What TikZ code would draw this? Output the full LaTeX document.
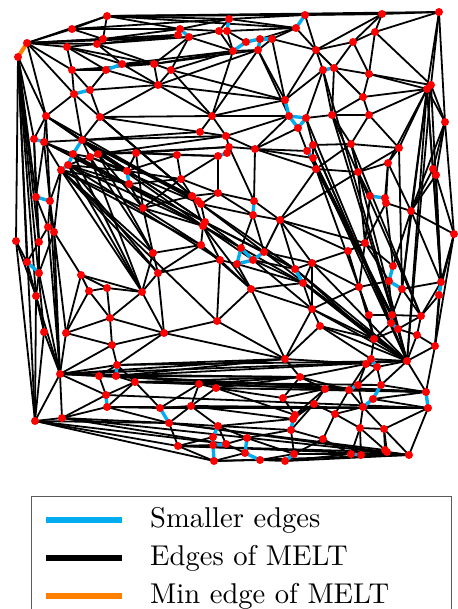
\documentclass[tikz,border=0pt]{standalone}
\usepackage{graphicx}
\definecolor{smallblue}{RGB}{0,174,239}
\definecolor{minorange}{RGB}{255,127,0}
\definecolor{boxgray}{RGB}{90,90,90}
\tikzset{
  melt/.style={black, line width=1.8pt},
  smalledge/.style={smallblue, line width=3.4pt},
  minedge/.style={minorange, line width=4pt},
  vertex/.style={fill=red},
  legendtext/.style={anchor=base west, inner sep=0pt},
}
\begin{document}
\begin{tikzpicture}[x=1pt,y=-1pt]
\useasboundingbox (0,0) rectangle (457,609);
% ---- vertices
\foreach \n/\x/\y in {
a1/27/43,a2/18/57,a3/107/16,a4/72/29,a5/97/44,a6/103/39,a7/67/47,a8/72/70,a9/106/70,a10/122/64,
a11/154/64,a12/158/85,a13/90/90,a14/74/94,a15/46/116,a16/100/117,a17/34/139,a18/44/142,a19/82/140,a20/73/154,
a21/90/157,a22/98/154,a23/136/153,a24/68/165,a25/61/170,
b1/229/19,b2/227/31,b3/219/31,b4/180/29,b5/178/35,b6/189/37,b7/305/15,b8/296/28,b9/246/42,b10/260/39,
b11/272/39,b12/258/50,b13/233/51,b14/171/70,b15/285/100,b16/289/116,b17/306/118,b18/298/128,b19/212/116,b20/200/132,
b21/226/136,b22/229/147,b23/227/153,b24/218/156,b25/255/149,b26/177/155,b27/307/151,b28/313/145,b29/313/158,b30/316/169,
c1/382/14,c2/439/12,c3/375/32,c4/353/42,c5/316/50,c6/323/70,c7/334/68,c8/369/74,c9/427/89,c10/431/85,
c11/363/97,c12/369/115,c13/332/115,c14/445/122,c15/351/144,c16/399/148,
d1/181/179,d2/218/193,d3/192/196,d4/198/201,d5/201/204,d6/254/201,d7/253/215,d8/280/220,d9/205/222,d10/203/226,
d11/201/245,d12/153/253,d13/158/273,d14/220/260,d15/241/248,d16/237/264,d17/253/260,d18/264/252,d19/295/269,d20/303/283,
d21/251/289,d22/127/171,d23/129/184,d24/143/208,d26/142/292,d27/107/288,d28/89/291,d29/81/275,
e1/388/163,e2/433/169,e3/436/175,e4/358/172,e5/370/196,e6/385/198,e7/386/203,e8/411/211,e9/454/234,e10/365/243,
e11/348/251,e12/312/263,e13/393/266,e14/389/281,e15/402/289,e16/359/287,e17/441/282,e18/439/295,e19/312/309,
f1/36/197,f2/50/201,f3/48/227,f4/54/232,f5/16/241,f6/39/242,f7/27/262,f8/39/273,f9/36/296,
g1/110/318,g2/44/332,g3/66/333,g4/112/345,g5/117/365,g6/116/376,g7/60/374,g8/99/376,g9/135/382,g10/106/395,
g11/107/407,g12/160/408,g13/35/421,g14/62/418,g15/164/333,g16/217/321,g17/285/359,g18/300/377,g19/199/384,g20/216/388,
g21/283/398,g23/169/423,g24/191/406,g25/295/415,g26/293/419,g27/291/430,g28/218/426,g29/213/437,g30/213/445,g31/226/444,
g32/214/461,g33/178/446,g34/247/438,g35/245/453,g36/260/460,g37/285/461,g38/294/454,
h1/320/326,h2/369/315,h3/392/315,h4/391/323,h5/398/329,h6/421/316,h7/417/335,h8/435/346,h9/374/339,h10/407/361,
h11/371/359,h12/366/364,h13/377/367,h15/358/385,h16/349/390,h17/381/385,h18/373/399,h19/363/407,h20/325/389,h21/426/392,
h22/428/408,h23/314/404,h24/335/414,h25/360/428,h26/384/429,h27/323/439,h28/351/454,h29/361/455,h30/385/450,h31/387/452,h32/409/455}
  {\coordinate (\n) at (\x,\y);}
% ---- edges of MELT (local mesh)
\foreach \u/\v in {
a1/a3,a1/a4,a3/a4,a4/a6,a3/a6,a5/a6,a1/a5,a1/a6,a1/a7,a5/a7,a7/a8,a1/a8,a1/a14,a8/a14,a8/a9,a8/a13,a9/a13,a7/a9,a7/a10,a5/a10,
a10/a11,a5/a11,a11/b6,a5/b6,a5/b5,a6/b5,a6/b4,a3/b4,a10/a12,a11/a12,a11/b14,a12/b14,a9/a12,a12/a13,a13/a16,a12/a16,a14/a16,a14/a15,a1/a15,a2/a15,
a14/a19,a16/a19,a15/a19,a12/b19,b14/b19,a16/b19,a16/b20,b19/b20,b20/b21,b19/b21,a19/b20,a19/b21,a15/a17,a15/a18,a2/a17,a18/a19,a18/a20,a18/a25,a19/a21,a20/a21,
a21/a22,a19/a22,a22/b21,a22/b22,a22/a23,a23/b22,a23/b24,a23/b26,b26/b24,a21/a24,a21/d22,a22/d22,a23/d22,b26/d22,b26/d1,b24/d1,d22/d1,a24/d22,a24/d23,a25/d23,
d23/d1,d23/d24,a25/d24,
a3/b1,a3/b7,a3/c2,b4/b1,b4/b3,b1/b3,b2/b3,b3/b6,b4/b5,b1/b7,b1/b8,b2/b8,b8/b10,b2/b9,b3/b13,b6/b13,b2/b13,b8/b11,b8/c5,b7/c5,
b7/c1,b11/c5,b11/b12,b12/b13,b6/b14,b13/b14,b13/b19,b12/b19,b12/b15,b11/b15,c5/b15,c5/c6,c6/b15,b19/b16,b12/b16,b16/b21,b16/b25,b21/b25,b18/b25,b18/b27,
b17/b28,b25/b27,b25/b29,b25/b30,b21/b22,b22/b25,b25/d6,b22/d6,b24/d2,d1/d2,d1/d3,d2/d3,d2/d6,d2/d7,d6/d8,d7/d8,b29/b30,b30/d8,b28/b29,
c1/c2,c1/c3,c3/c2,c1/c4,c3/c4,c4/c5,c5/c1,c4/c7,c5/c7,c4/c8,c3/c8,c8/c10,c3/c10,c2/c10,c9/c10,c8/c9,c8/c11,c7/c11,c7/c8,c11/c9,
c11/c12,c12/c9,c9/c14,c2/c14,c10/c14,c6/c13,c7/c13,c13/c11,c13/c12,c13/b17,c6/b17,c13/c15,c12/c15,c15/b28,c15/c16,c12/c16,c16/c9,c16/e1,c9/e1,c9/e8,
c9/e2,e2/e8,e2/e3,e3/e8,c14/e2,c14/e3,c14/e9,e3/e9,c15/b30,c15/e4,b30/e4,c16/e4,e1/e4,e4/e5,e1/e6,e1/e7,e1/e8,e7/e8,e8/e9,
e5/e10,e7/e10,e7/e13,e8/e13,e10/e13,e8/e15,e8/e17,e9/e17,e15/e17,e4/e10,d8/e4,d8/e10,d8/e11,e10/e11,e11/e12,d8/e12,d8/d19,e12/d19,e10/e14,e10/e16,
e11/e16,e12/e16,e14/e16,e16/e19,e12/e19,e16/h2,e16/h9,e19/h1,e19/h9,h1/h9,e15/h3,e14/h3,e15/h6,e17/h6,e18/h6,e18/h8,e9/e18,h3/h6,h5/h6,h6/h7,
h7/h8,h5/h7,h2/h3,h2/h9,h4/h9,h5/h9,h9/h10,h5/h10,h7/h10,h8/h10,h9/h11,h11/h10,h13/h10,h1/h11,h13/h17,h10/h17,h10/h21,h8/h21,h17/h21,h18/h21,
h18/h22,h19/h22,h19/h26,h22/h26,h22/h32,h26/h32,h26/h31,h31/h32,h30/h26,h25/h26,h25/h30,h29/h30,h25/h29,h25/h28,h27/h28,h24/h25,h24/h27,h23/h24,h27/g38,g38/h28,
g37/h28,g37/h32,h29/h32,h29/h31,h19/h25,h19/h24,h16/h24,h16/h19,h15/h19,h15/h17,h12/h15,h12/h16,h12/h13,h15/h13,
d3/d4,d4/d5,d5/d9,d9/d10,d3/d10,d1/d24,d3/d24,d24/d10,d24/d12,d24/d11,d10/d11,d11/d12,d12/d13,d11/d13,d11/d14,d13/d14,d2/d5,d5/d7,d9/d15,d7/d15,
d7/d18,d8/d18,d18/d19,d17/d19,d16/d20,d17/d20,d14/d16,d14/d21,d16/d21,d21/d20,d21/e19,d20/e19,d20/e12,d10/d14,d10/d15,d14/g16,d13/g15,g15/g16,d12/d26,d13/d26,
d26/g15,g16/g17,d21/g16,d21/g17,g17/e19,g17/h1,
a25/d12,a25/d26,a25/f4,f4/d29,d29/d26,d29/d28,d29/d27,d27/d28,d27/d26,d28/g3,d28/g1,d27/g1,d26/g1,d29/g3,g3/g1,g1/g15,g1/g4,g4/g15,g3/g4,
a2/f5,a2/f1,a2/f6,a2/f7,a17/f1,a18/f1,a18/f2,a25/f2,f2/f3,f2/f4,f1/f3,f3/f6,f1/f6,f4/f8,f6/f8,f6/f7,f5/f7,f7/f9,f8/f9,f5/f9,
f5/g13,f9/g13,g2/g13,f9/g2,g2/g7,g7/g13,f9/g7,f8/g7,f4/g7,f2/g7,f3/g7,f4/g3,g3/g7,g4/g7,g4/g5,g5/g7,g7/g8,g8/g5,g8/g6,g8/g10,
g7/g10,g6/g9,g5/g9,g10/g9,g11/g9,g11/g12,g9/g12,g7/g14,g14/g10,g14/g11,g13/g14,g5/g15,g5/g17,g15/g17,g6/g17,g6/g18,g17/g18,g9/g18,g9/g19,g19/g18,
g19/g20,g20/g18,g20/g21,g18/g21,g18/h20,g21/h20,g17/h12,g18/h12,g18/h16,h20/h16,
g12/g19,g12/g24,g19/g24,g20/g24,g24/g28,g23/g24,g23/g28,g23/g33,g33/g29,g33/g30,g33/g32,g28/g31,g31/g34,g28/g34,g31/g35,g32/g35,g32/g36,g36/g37,g34/g38,g36/g38,
g34/g27,g28/g27,g28/g26,g24/g26,g20/g25,g21/g25,g27/g38,g27/h27,g27/h23,g26/h23,g25/h23,g25/h20,h20/h23,g13/g32,g13/g33,g13/g23,g14/g23,g11/g23}
  {\draw[melt] (\u) -- (\v);}
% ---- edges of MELT (long bundles)
\foreach \u/\v in {
a15/d10,a15/d9,a18/d10,a19/d9,a19/d5,a20/d10,a24/d10,a25/d11,a16/d5,a16/d4,a19/d4,a21/d5,a16/d3,a19/d3,
a24/d14,a25/d13,a25/g16,a18/d9,a15/d5,
d5/d18,d9/d18,d10/d17,d9/d19,d5/d19,d10/d20,d11/d21,d10/d21,d18/e12,d17/e19,
d19/h10,d20/h10,e12/h10,d19/h9,d20/h9,e19/h10,d18/h10,h1/h10,
b27/h3,b29/h3,b30/h2,b28/h4,b17/h10,b28/h10,b27/h5,b29/h10,
c6/h10,c13/h10,c13/h6,c15/h6,c15/h10,c9/h10,c10/h10,c9/e15,c9/e17,c10/e17,e2/e17,e3/e17,c16/e15,c2/c9,
g7/h21,g7/h10,g6/h10,g5/h10,g6/h21,g9/h21,g8/h21,g7/g17,g7/g18,g9/h17,g10/h22,g11/h22,g12/h22,g24/h22,g19/h21,g20/h21,
g14/h32,g13/g31,g14/g31,g23/h30,g33/h32,g32/h32,g33/h31,g23/h32,
a2/g13,a2/f9,a2/g2,a17/f6,a15/f2,
a1/b5,a1/b6,a4/b4,a4/b1,a3/c1,a3/b8,a7/a11,a8/a11,a10/b13,a11/b13,a11/b12,a12/b12,a12/b15,b14/b15,b19/b15,
c14/e8,e9/h8,e17/h8,
a20/d26,a21/d26,a24/d26,a24/d13,a21/d12,a22/d12,a22/d24,a23/d24}
  {\draw[melt] (\u) -- (\v);}
% ---- smaller edges
\foreach \u/\v in {
a19/a20,a20/a24,a24/a25,a17/a18,a9/a10,a13/a14,b4/b6,b1/b2,b7/b8,b9/b13,b9/b10,b10/b11,b10/b12,b15/b16,b16/b17,b16/b18,b17/b18,b22/b23,b23/b24,b28/b27,
b27/b29,c6/c7,d22/d23,d6/d7,d15/d16,d16/d17,d17/d18,d15/d17,d19/d20,e5/e6,e6/e7,e13/e14,e14/e15,e17/e18,f1/f2,f7/f8,g5/g6,g10/g11,g12/g23,g28/g29,
g29/g30,g30/g31,g30/g32,g34/g35,g35/g36,g37/g38,g25/g26,g26/g27,h3/h4,h4/h5,h11/h13,h15/h16,h17/h18,h18/h19,h21/h22,h28/h29}
  {\draw[smalledge] (\u) -- (\v);}
% ---- min edge
\draw[minedge] (a1) -- (a2);
% ---- dots
\foreach \p in {a1,a2,a3,a4,a5,a6,a7,a8,a9,a10,a11,a12,a13,a14,a15,a16,a17,a18,a19,a20,a21,a22,a23,a24,a25,
b1,b2,b3,b4,b5,b6,b7,b8,b9,b10,b11,b12,b13,b14,b15,b16,b17,b18,b19,b20,b21,b22,b23,b24,b25,b26,b27,b28,b29,b30,
c1,c2,c3,c4,c5,c6,c7,c8,c9,c10,c11,c12,c13,c14,c15,c16,
d1,d2,d3,d4,d5,d6,d7,d8,d9,d10,d11,d12,d13,d14,d15,d16,d17,d18,d19,d20,d21,d22,d23,d24,d26,d27,d28,d29,
e1,e2,e3,e4,e5,e6,e7,e8,e9,e10,e11,e12,e13,e14,e15,e16,e17,e18,e19,
f1,f2,f3,f4,f5,f6,f7,f8,f9,
g1,g2,g3,g4,g5,g6,g7,g8,g9,g10,g11,g12,g13,g14,g15,g16,g17,g18,g19,g20,g21,g23,g24,g25,g26,g27,g28,g29,g30,g31,g32,g33,g34,g35,g36,g37,g38,
h1,h2,h3,h4,h5,h6,h7,h8,h9,h10,h11,h12,h13,h15,h16,h17,h18,h19,h20,h21,h22,h23,h24,h25,h26,h27,h28,h29,h30,h31,h32}
  {\fill[vertex] (\p) circle (4);}
% ---- legend
\draw[boxgray, line width=0.8pt] (31,496) rectangle (451,630);
\coordinate (l1a) at (46,520); \coordinate (l1b) at (122,520);
\coordinate (l2a) at (46,558); \coordinate (l2b) at (122,558);
\coordinate (l3a) at (46,596); \coordinate (l3b) at (122,596);
\draw[smallblue, line width=6pt] (l1a) -- (l1b);
\draw[black, line width=6pt] (l2a) -- (l2b);
\draw[minorange, line width=6pt] (l3a) -- (l3b);
\node[legendtext] (t1) at (150,527) {\scalebox{2.86}{Smaller edges}};
\node[legendtext] (t2) at (150,565) {\scalebox{2.86}{Edges of MELT}};
\node[legendtext] (t3) at (150,603) {\scalebox{2.86}{Min edge of MELT}};
\end{tikzpicture}
\end{document}
